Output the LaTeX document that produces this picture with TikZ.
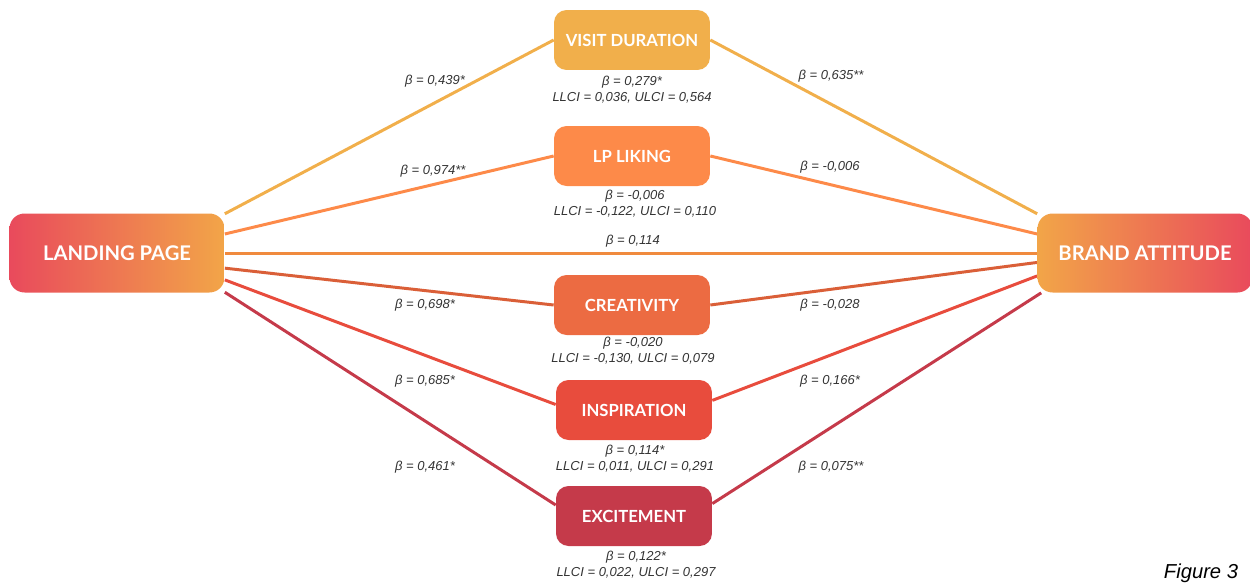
\documentclass[tikz,border=0pt]{standalone}
\usepackage{fontspec}
\setmainfont{Liberation Sans}
\newfontfamily\boxfont{Lato}
\usetikzlibrary{backgrounds}
\definecolor{lpred}{HTML}{E94A5C}
\definecolor{lporange}{HTML}{F2A548}
\definecolor{vdcol}{HTML}{F1AF4B}
\definecolor{likecol}{HTML}{FD8A49}
\definecolor{crcol}{HTML}{EC6B42}
\definecolor{crline}{HTML}{DA5F38}
\definecolor{inspcol}{HTML}{E84C3D}
\definecolor{exccol}{HTML}{C53A4A}
\definecolor{directcol}{HTML}{F08A3E}
\definecolor{labgray}{HTML}{333333}
\begin{document}
\begin{tikzpicture}[x=0.02cm,y=-0.02cm,
    bigbox/.style={rounded corners=0.3cm,minimum width=4.3cm,minimum height=1.58cm,inner sep=0pt,
        text=white,font=\boxfont\bfseries\fontsize{11.5}{13}\selectfont},
    midbox/.style={rounded corners=0.25cm,minimum width=3.12cm,minimum height=1.2cm,inner sep=0pt,
        text=white,font=\boxfont\bfseries\fontsize{9.5}{11}\selectfont},
    beta/.style={text=labgray,font=\itshape\fontsize{7.4}{9}\selectfont,inner sep=0pt},
    stats/.style={beta,align=center},
    link/.style={line width=1.7pt}]
        \useasboundingbox (0,0) rectangle (1250,582);
        \node[bigbox,left color=lpred,right color=lporange] (lp) at (117,253) {LANDING PAGE};
        \node[bigbox,left color=lporange,right color=lpred] (ba) at (1145,253) {BRAND ATTITUDE};
        \node[midbox,fill=vdcol] (vd) at (632,40) {VISIT DURATION};
        \node[midbox,fill=likecol] (like) at (632,156) {LP LIKING};
        \node[midbox,fill=crcol] (cr) at (632,305) {CREATIVITY};
        \node[midbox,fill=inspcol] (insp) at (634,410) {INSPIRATION};
        \node[midbox,fill=exccol] (exc) at (634,516) {EXCITEMENT};
        \begin{scope}[on background layer]
            \draw[link,vdcol] (lp.20) -- (vd.west);
            \draw[link,vdcol] (vd.east) -- (ba.160);
            \draw[link,likecol] (lp.10) -- (like.west);
            \draw[link,likecol] (like.east) -- (ba.170);
            \draw[link,directcol] (lp.east) -- (ba.west);
            \draw[link,crline] (lp.-8) -- (cr.west);
            \draw[link,crline] (cr.east) -- (ba.185);
            \draw[link,inspcol] (lp.-14) -- (insp.176);
            \draw[link,inspcol] (insp.7) -- (ba.192);
            \draw[link,exccol] (lp.-20) -- (exc.172);
            \draw[link,exccol] (exc.9) -- (ba.201);
        \end{scope}
        \node[beta] (b1) at (435,81) {β = 0,439*};
        \node[beta] (b2) at (433,171) {β = 0,974**};
        \node[beta] (b3) at (633,241) {β = 0,114};
        \node[beta] (b4) at (425,305) {β = 0,698*};
        \node[beta] (b5) at (425,381) {β = 0,685*};
        \node[beta] (b6) at (425,467) {β = 0,461*};
        \node[beta] (c1) at (831,76) {β = 0,635**};
        \node[beta] (c2) at (830,167) {β = -0,006};
        \node[beta] (c3) at (830,305) {β = -0,028};
        \node[beta] (c4) at (830,381) {β = 0,166*};
        \node[beta] (c5) at (831,467) {β = 0,075**};
        \node[stats] (s1) at (632,90) {β = 0,279*\\LLCI = 0,036, ULCI = 0,564};
        \node[stats] (s2) at (635,204) {β = -0,006\\LLCI = -0,122, ULCI = 0,110};
        \node[stats] (s3) at (633,351) {β = -0,020\\LLCI = -0,130, ULCI = 0,079};
        \node[stats] (s4) at (635,459) {β = 0,114*\\LLCI = 0,011, ULCI = 0,291};
        \node[stats] (s5) at (636,565) {β = 0,122*\\LLCI = 0,022, ULCI = 0,297};
        \node[anchor=base,text=black,font=\itshape\fontsize{11.5}{13}\selectfont,inner sep=0pt] (fig) at (1201,578) {Figure 3};
\end{tikzpicture}
\end{document}
